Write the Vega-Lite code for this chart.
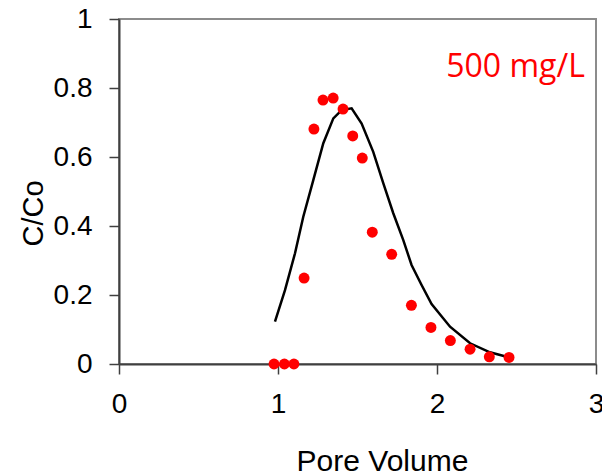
{
  "$schema": "https://vega.github.io/schema/vega-lite/v6.json",
  "width": 477,
  "height": 345,
  "autosize": {"type": "none"},
  "padding": {"left": 119, "top": 19, "right": 6, "bottom": 112},
  "background": "white",
  "config": {
    "view": {"stroke": "#8c8c8c", "strokeWidth": 2},
    "font": "Liberation Sans",
    "axis": {
      "grid": false,
      "domainColor": "#404040",
      "domainWidth": 2,
      "tickColor": "#404040",
      "tickWidth": 1.5,
      "tickSize": 10,
      "labelFlush": false,
      "labelFont": "Liberation Sans",
      "labelFontSize": 28,
      "labelColor": "#000000",
      "titleFont": "Liberation Sans",
      "titleFontSize": 29,
      "titleFontWeight": "normal",
      "titleColor": "#000000"
    }
  },
  "datasets": {
    "obs": [
      {"pv": 0.975, "c": 0.0},
      {"pv": 1.04, "c": 0.0},
      {"pv": 1.10, "c": 0.0},
      {"pv": 1.164, "c": 0.249},
      {"pv": 1.226, "c": 0.681},
      {"pv": 1.283, "c": 0.765},
      {"pv": 1.347, "c": 0.771},
      {"pv": 1.409, "c": 0.739},
      {"pv": 1.470, "c": 0.661},
      {"pv": 1.530, "c": 0.597},
      {"pv": 1.593, "c": 0.382},
      {"pv": 1.715, "c": 0.318},
      {"pv": 1.839, "c": 0.170},
      {"pv": 1.962, "c": 0.106},
      {"pv": 2.084, "c": 0.068},
      {"pv": 2.208, "c": 0.043},
      {"pv": 2.329, "c": 0.021},
      {"pv": 2.453, "c": 0.019}
    ],
    "model": [
      {"pv": 0.981, "c": 0.123},
      {"pv": 1.044, "c": 0.214},
      {"pv": 1.107, "c": 0.321},
      {"pv": 1.159, "c": 0.427},
      {"pv": 1.222, "c": 0.533},
      {"pv": 1.285, "c": 0.640},
      {"pv": 1.348, "c": 0.712},
      {"pv": 1.400, "c": 0.736},
      {"pv": 1.463, "c": 0.741},
      {"pv": 1.526, "c": 0.697},
      {"pv": 1.599, "c": 0.615},
      {"pv": 1.662, "c": 0.524},
      {"pv": 1.725, "c": 0.437},
      {"pv": 1.788, "c": 0.359},
      {"pv": 1.840, "c": 0.287},
      {"pv": 1.903, "c": 0.229},
      {"pv": 1.966, "c": 0.174},
      {"pv": 2.082, "c": 0.108},
      {"pv": 2.208, "c": 0.060},
      {"pv": 2.333, "c": 0.034},
      {"pv": 2.438, "c": 0.021}
    ],
    "label": [
      {"pv": 2.93, "c": 0.832, "t": "500 mg/L"}
    ]
  },
  "layer": [
    {
      "data": {"name": "model"},
      "mark": {"type": "line", "color": "#000000", "strokeWidth": 2.5},
      "encoding": {
        "x": {
          "field": "pv", "type": "quantitative",
          "scale": {"domain": [0, 3], "nice": false},
          "axis": {
            "values": [0, 1, 2, 3],
            "format": "~g",
            "title": "Pore Volume",
            "labelPadding": 16,
            "titleX": 263,
            "titleY": 106,
            "titleAlign": "center",
            "titleBaseline": "alphabetic",
            "titleFontSize": 30
          }
        },
        "y": {
          "field": "c", "type": "quantitative",
          "scale": {"domain": [0, 1], "nice": false},
          "axis": {
            "values": [0, 0.2, 0.4, 0.6, 0.8, 1],
            "format": "~g",
            "title": "C/Co",
            "labelPadding": 17,
            "titleX": -77,
            "titleY": 194,
            "titleAngle": -90,
            "titleAlign": "center",
            "titleBaseline": "alphabetic"
          }
        }
      }
    },
    {
      "data": {"name": "obs"},
      "mark": {"type": "point", "filled": true, "shape": "circle", "color": "#ff0000", "opacity": 1, "size": 120},
      "encoding": {
        "x": {"field": "pv", "type": "quantitative"},
        "y": {"field": "c", "type": "quantitative"}
      }
    },
    {
      "data": {"name": "label"},
      "mark": {"type": "text", "color": "#ff0000", "font": "Open Sans", "fontSize": 32, "align": "right", "baseline": "alphabetic"},
      "encoding": {
        "x": {"field": "pv", "type": "quantitative"},
        "y": {"field": "c", "type": "quantitative"},
        "text": {"field": "t"}
      }
    }
  ]
}
